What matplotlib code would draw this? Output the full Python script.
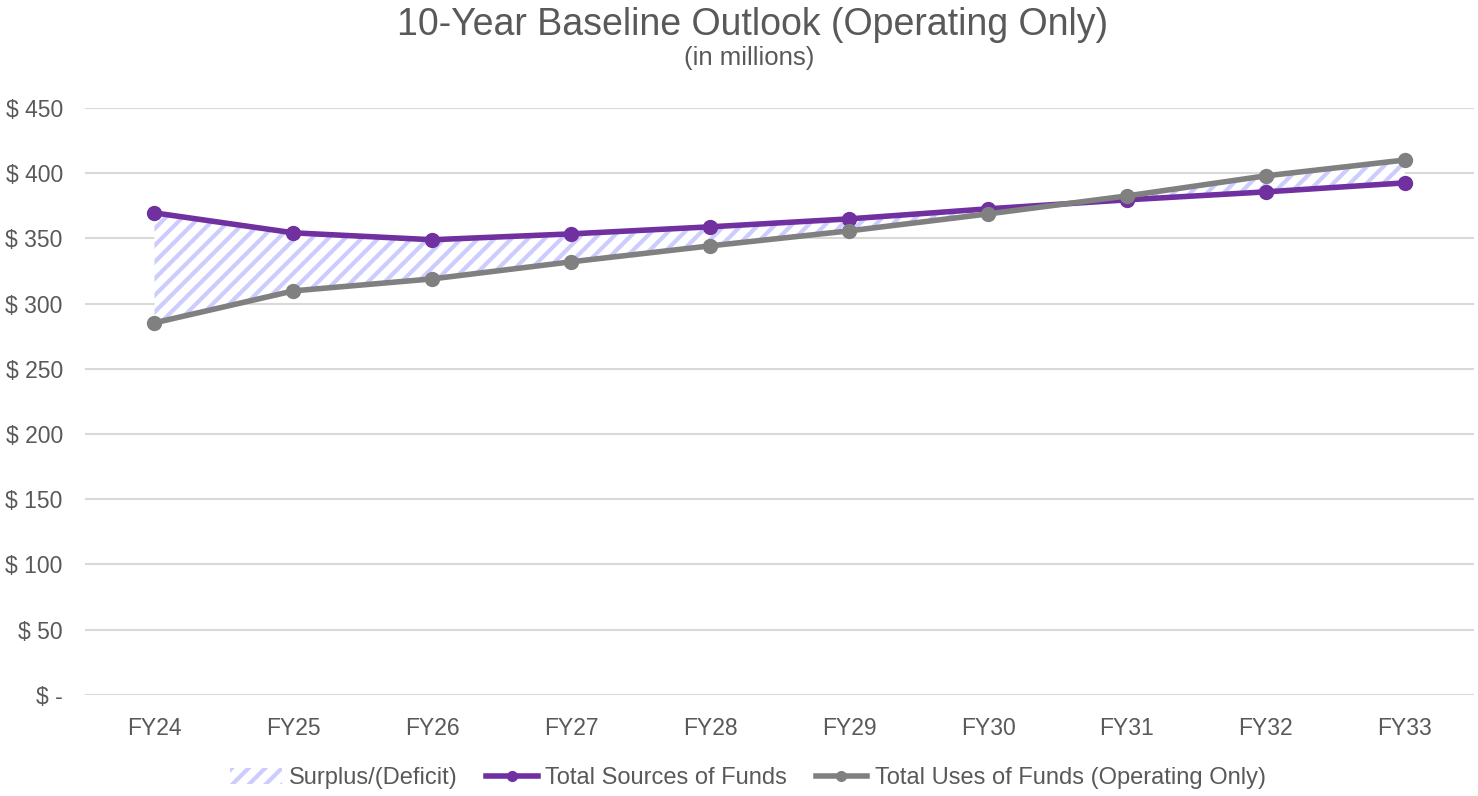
import numpy as np
import matplotlib
matplotlib.use('Agg')
import matplotlib.pyplot as plt
from matplotlib.patches import Patch
from matplotlib.lines import Line2D

plt.rcParams['font.family'] = ['Liberation Sans', 'DejaVu Sans']
plt.rcParams['hatch.linewidth'] = 3.0
plt.rcParams['hatch.color'] = '#CCCCFF'

years = ['FY24', 'FY25', 'FY26', 'FY27', 'FY28', 'FY29', 'FY30', 'FY31', 'FY32', 'FY33']
sources = [369.5, 354.2, 348.9, 353.4, 358.8, 364.9, 372.6, 379.5, 385.6, 392.5]
uses = [285.2, 309.7, 318.9, 332.0, 344.2, 355.7, 368.7, 382.5, 397.9, 410.0]
yticks = [0, 50, 100, 150, 200, 250, 300, 350, 400, 450]

TXT = '#595959'
PURPLE = '#7030A0'
GRAY = '#808080'

fig = plt.figure(figsize=(14.78, 7.96), dpi=100)
ax = fig.add_axes([0.0575, 0.127, 0.94, 0.7375])

x = np.arange(len(years))
# surplus / deficit band between the two lines
ax.fill_between(x, sources, uses, facecolor='white', edgecolor='#CCCCFF',
                hatch='//', linewidth=0, zorder=1)
ax.plot(x, sources, color=PURPLE, lw=4, marker='o', ms=10, zorder=3)
ax.plot(x, uses, color=GRAY, lw=4, marker='o', ms=10, zorder=3)

ax.set_xlim(-0.5, len(years) - 0.5)
ax.set_ylim(0, 450)
ax.set_yticks(yticks)
ax.set_yticklabels(['$ -' if v == 0 else f'$ {v}' for v in yticks])
ax.set_xticks(x)
ax.set_xticklabels(years)
ax.tick_params(axis='both', length=0, labelsize=16.5, colors=TXT)
ax.tick_params(axis='y', pad=16)
ax.tick_params(axis='x', pad=16)
ax.grid(axis='y', color='#D9D9D9', lw=1.5)
ax.set_axisbelow(True)
for s in ax.spines.values():
    s.set_visible(False)

fig.text(0.509, 0.969, '10-Year Baseline Outlook (Operating Only)', ha='center', va='center',
         fontsize=27, color=TXT)
fig.text(0.507, 0.927, '(in millions)', ha='center', va='center', fontsize=18.5, color=TXT)

handles = [
    Patch(facecolor='white', edgecolor='#CCCCFF', hatch='//', linewidth=0, label='Surplus/(Deficit)'),
    Line2D([], [], color=PURPLE, lw=4, marker='o', ms=7, label='Total Sources of Funds'),
    Line2D([], [], color=GRAY, lw=4, marker='o', ms=7, label='Total Uses of Funds (Operating Only)'),
]
fig.legend(handles=handles, loc='center', bbox_to_anchor=(0.506, 0.022), ncol=3, frameon=False,
           fontsize=17, labelcolor=TXT, handlelength=2.2, handletextpad=0.3, columnspacing=1.2)

fig.savefig('out.png', dpi=100)
